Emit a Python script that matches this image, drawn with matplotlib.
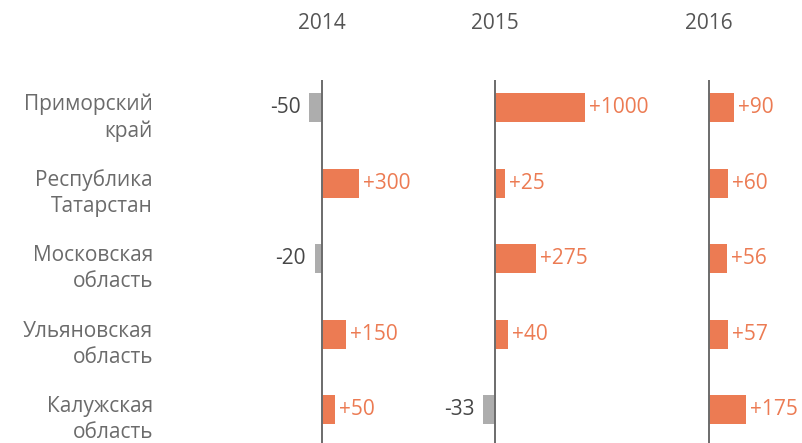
import numpy as np
import matplotlib.pyplot as plt
from matplotlib.transforms import blended_transform_factory

# data
years = ['2014', '2015', '2016']
regions = ['Приморский\nкрай', 'Республика\nТатарстан', 'Московская\nобласть',
           'Ульяновская\nобласть', 'Калужская\nобласть']
values_2014 = [-50, 300, -20, 150, 50]
values_2015 = [1000, 25, 275, 40, -33]
values_2016 = [90, 60, 56, 57, 175]

ORANGE = '#EC7B53'
GREY_BAR = '#ADADAD'
TEXT_GREY = '#6b6b6b'
NEG_TEXT = '#474747'
LINE = '#6b6b6b'

plt.rcParams['font.family'] = ['Open Sans', 'DejaVu Sans']
FS = 15

W, H = 802, 443
fig = plt.figure(figsize=(W / 100, H / 100), dpi=100)


def fwd(x):
    x = np.asarray(x, dtype=float)
    return np.sign(x) * np.abs(x) ** 0.6


def inv(y):
    y = np.asarray(y, dtype=float)
    return np.sign(y) * np.abs(y) ** (1 / 0.6)


# panel layout in pixels: (left, right, zero line, px per scaled unit)
panels = [(200, 470, 322, 1.2), (400, 690, 495, 1.42), (620, 800, 709, 1.65)]
all_values = [values_2014, values_2015, values_2016]

top_px, bot_px = 80, 443
n = len(regions)
ys = np.arange(n)

axes = []
for (L, R, z, k), yr, vals in zip(panels, years, all_values):
    ax = fig.add_axes([L / W, 1 - bot_px / H, (R - L) / W, (bot_px - top_px) / H])
    ax.patch.set_visible(False)
    ax.set_xscale('function', functions=(fwd, inv))
    ax.set_xlim(float(inv(-(z - L) / k)), float(inv((R - z) / k)))
    ax.set_ylim(n - 1 + 0.44, -0.37)
    for s in ax.spines.values():
        s.set_visible(False)
    ax.set_xticks([])
    ax.set_yticks([])

    colors = [ORANGE if v > 0 else GREY_BAR for v in vals]
    ax.barh(ys, vals, height=0.385, color=colors, edgecolor='none', zorder=2)
    ax.axvline(0, color=LINE, lw=1.4, zorder=3)

    for y, v in zip(ys, vals):
        if v > 0:
            ax.annotate(f'+{v}', (v, y), xytext=(4, 0), textcoords='offset pixels',
                        ha='left', va='center', color=ORANGE, fontsize=FS,
                        annotation_clip=False)
        else:
            ax.annotate(f'{v}', (v, y), xytext=(-9, 0), textcoords='offset pixels',
                        ha='right', va='center', color=NEG_TEXT, fontsize=FS,
                        annotation_clip=False)

    tr = blended_transform_factory(ax.transData, ax.transAxes)
    ax.text(0, 1.155, yr, transform=tr, ha='center', va='center',
            color='#555555', fontsize=FS)
    axes.append(ax)

# region names on the left
tr = blended_transform_factory(fig.transFigure, axes[0].transData)
for y, name in zip(ys, regions):
    axes[0].text(153 / W, y + 0.13, name, transform=tr, ha='right', va='center',
                 color=TEXT_GREY, fontsize=FS, linespacing=1.3)

fig.savefig('out.png', dpi=100)
